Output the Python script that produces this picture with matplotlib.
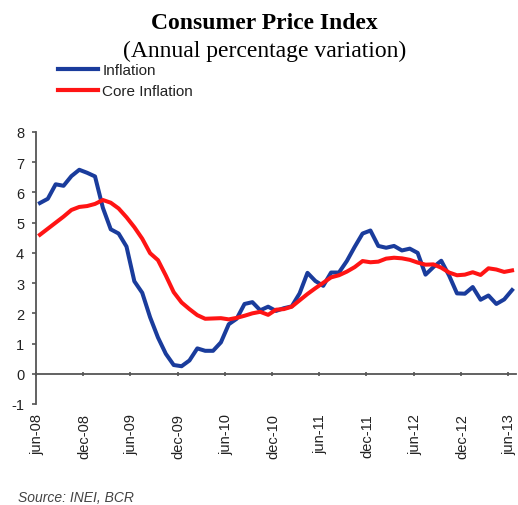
import numpy as np
import matplotlib as mpl
mpl.use('Agg')
import matplotlib.pyplot as plt

# monthly data, jun-08 .. jun-13 (61 months)
inflation = [5.65, 5.79, 6.27, 6.22, 6.54, 6.75, 6.65,
             6.53, 5.49, 4.78, 4.64, 4.21, 3.06, 2.68, 1.87, 1.20, 0.66, 0.29, 0.25,
             0.44, 0.84, 0.76, 0.76, 1.04, 1.64, 1.82, 2.31, 2.37, 2.10, 2.22, 2.08,
             2.17, 2.23, 2.66, 3.34, 3.07, 2.91, 3.35, 3.35, 3.73, 4.20, 4.64, 4.74,
             4.23, 4.17, 4.23, 4.08, 4.14, 4.00, 3.28, 3.53, 3.74, 3.25, 2.66, 2.65,
             2.87, 2.45, 2.59, 2.31, 2.46, 2.77]

core_inflation = [4.60, 4.80, 5.00, 5.20, 5.42, 5.52, 5.55,
                  5.62, 5.75, 5.66, 5.47, 5.18, 4.85, 4.47, 3.99, 3.76, 3.25, 2.70, 2.36,
                  2.14, 1.94, 1.82, 1.83, 1.84, 1.80, 1.85, 1.92, 2.00, 2.05, 1.95, 2.12,
                  2.14, 2.22, 2.43, 2.64, 2.83, 3.01, 3.19, 3.26, 3.38, 3.53, 3.73, 3.69,
                  3.71, 3.81, 3.84, 3.82, 3.77, 3.68, 3.61, 3.62, 3.51, 3.35, 3.26, 3.28,
                  3.36, 3.27, 3.49, 3.45, 3.37, 3.42]

tick_labels = ['jun-08', 'dec-08', 'jun-09', 'dec-09', 'jun-10', 'dec-10',
               'jun-11', 'dec-11', 'jun-12', 'dec-12', 'jun-13']
yticks = [-1, 0, 1, 2, 3, 4, 5, 6, 7, 8]

blue = '#1a3c9c'
red = '#ff1414'
axcol = '#555555'

fig = plt.figure(figsize=(5.18, 5.06), dpi=100)
ax = fig.add_axes([36/518, 1-405/506, 480/518, 272/506])

x = np.arange(len(inflation)) + 0.5
ax.plot(x, inflation, color=blue, linewidth=2.9, label='Inflation', solid_joinstyle='round')
ax.plot(x, core_inflation, color=red, linewidth=2.9, label='Core Inflation', solid_joinstyle='round')

ax.set_xlim(0, 61)
ax.set_ylim(-1, 8)

for s in ['top', 'right']:
    ax.spines[s].set_visible(False)
ax.spines['left'].set_color(axcol)
ax.spines['left'].set_linewidth(1.3)
ax.spines['bottom'].set_position(('data', 0))
ax.spines['bottom'].set_color(axcol)
ax.spines['bottom'].set_linewidth(1.3)

ax.set_yticks(yticks)
ax.set_yticklabels([str(v) for v in yticks], fontsize=10.5, family='Liberation Sans', color='#222222')
ax.tick_params(axis='y', length=3, width=1.2, color=axcol, pad=5.5)

# ticks every six months, labels placed well below the zero line
ax.set_xticks(np.arange(0, 61, 6))
ax.set_xticklabels([])
ax.tick_params(axis='x', which='major', length=2.5, width=1.2, color=axcol, direction='inout')
ax.set_xticks(np.arange(0, 61, 6) + 0.15, minor=True)
ax.set_xticklabels(tick_labels, minor=True, rotation=90, fontsize=10.5,
                   family='Liberation Sans', color='#222222')
ax.tick_params(axis='x', which='minor', length=0, pad=28.5)

fig.text(0.51, 1-29/506, 'Consumer Price Index', ha='center', va='baseline',
         fontsize=17, fontweight='bold', family='Liberation Serif')
fig.text(0.51, 1-57/506, '(Annual percentage variation)', ha='center', va='baseline',
         fontsize=17, family='Liberation Serif')

leg = ax.legend(loc='upper left', bbox_to_anchor=(58/518, 1-64/506),
                bbox_transform=fig.transFigure, frameon=False, borderpad=0,
                borderaxespad=0, handlelength=2.6, handletextpad=0.3,
                labelspacing=0.45, prop={'family': 'Liberation Sans', 'size': 11})
for line in leg.get_lines():
    line.set_linewidth(3.0)
for t in leg.get_texts():
    t.set_color('#222222')

fig.text(18/518, 1-502/506, 'Source: INEI, BCR', ha='left', va='baseline',
         fontsize=10, style='italic', family='Liberation Sans', color='#444444')

fig.savefig('out.png', dpi=100)
plt.close()
